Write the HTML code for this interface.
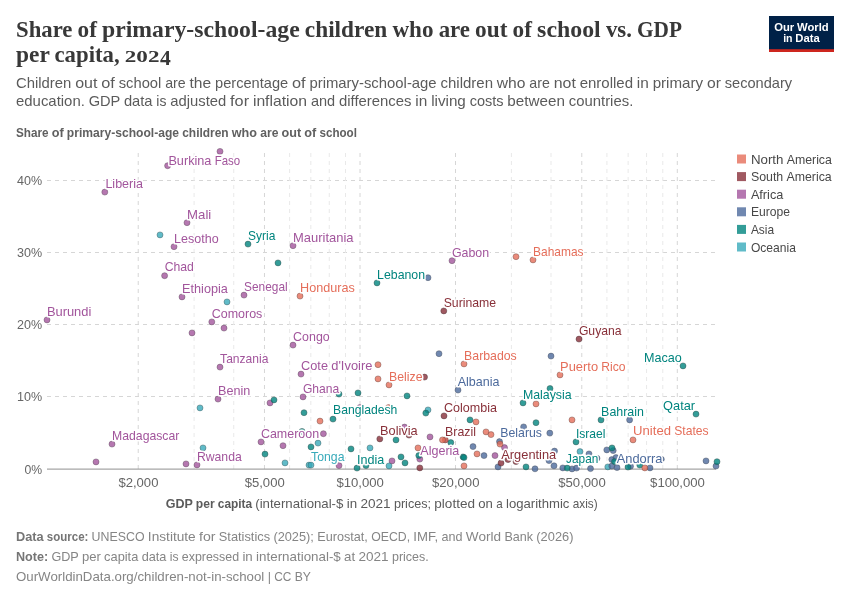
<!DOCTYPE html>
<html lang="en">
<head>
<meta charset="utf-8">
<title>Share of primary-school-age children who are out of school vs. GDP per capita, 2024</title>
<style>
html,body{margin:0;padding:0;background:#fff;}
body{width:850px;height:600px;overflow:hidden;font-family:"Liberation Sans",sans-serif;}
svg{display:block;}
</style>
</head>
<body>
<svg width="850" height="600" viewBox="0 0 850 600">
<rect width="850" height="600" fill="#ffffff"/>
<g id="header">
<text y="36.6" font-family="Liberation Serif, serif" font-size="23.4" font-weight="bold" fill="#383838"><tspan x="16.00" textLength="56.39" lengthAdjust="spacingAndGlyphs">Share</tspan> <tspan x="77.52" textLength="19.41" lengthAdjust="spacingAndGlyphs">of</tspan> <tspan x="102.05" textLength="197.65" lengthAdjust="spacingAndGlyphs">primary-school-age</tspan> <tspan x="304.83" textLength="82.44" lengthAdjust="spacingAndGlyphs">children</tspan> <tspan x="392.40" textLength="41.10" lengthAdjust="spacingAndGlyphs">who</tspan> <tspan x="438.64" textLength="31.32" lengthAdjust="spacingAndGlyphs">are</tspan> <tspan x="475.09" textLength="32.37" lengthAdjust="spacingAndGlyphs">out</tspan> <tspan x="512.60" textLength="19.41" lengthAdjust="spacingAndGlyphs">of</tspan> <tspan x="537.14" textLength="63.61" lengthAdjust="spacingAndGlyphs">school</tspan> <tspan x="605.88" textLength="26.02" lengthAdjust="spacingAndGlyphs">vs.</tspan> <tspan x="637.03" textLength="44.98" lengthAdjust="spacingAndGlyphs">GDP</tspan></text>
<text y="61.6" font-family="Liberation Serif, serif" font-size="23.4" font-weight="bold" fill="#383838"><tspan x="16.00" textLength="33.34" lengthAdjust="spacingAndGlyphs">per</tspan> <tspan x="54.47" textLength="65.18" lengthAdjust="spacingAndGlyphs">capita,</tspan></text>
<text y="61.6" font-family="Liberation Serif, serif" font-size="17.3" font-weight="bold" fill="#383838"><tspan x="124.8" textLength="34.7" lengthAdjust="spacingAndGlyphs">202</tspan><tspan x="160.1" dy="3.1" font-size="21.6" textLength="10.8" lengthAdjust="spacingAndGlyphs">4</tspan></text>
<text y="87.8" font-family="Liberation Sans, sans-serif" font-size="15" fill="#5b5b5b"><tspan x="16.00" textLength="55.37" lengthAdjust="spacingAndGlyphs">Children</tspan> <tspan x="75.21" textLength="22.24" lengthAdjust="spacingAndGlyphs">out</tspan> <tspan x="101.30" textLength="13.60" lengthAdjust="spacingAndGlyphs">of</tspan> <tspan x="118.73" textLength="42.58" lengthAdjust="spacingAndGlyphs">school</tspan> <tspan x="165.15" textLength="20.53" lengthAdjust="spacingAndGlyphs">are</tspan> <tspan x="189.52" textLength="21.67" lengthAdjust="spacingAndGlyphs">the</tspan> <tspan x="215.03" textLength="73.12" lengthAdjust="spacingAndGlyphs">percentage</tspan> <tspan x="291.99" textLength="13.60" lengthAdjust="spacingAndGlyphs">of</tspan> <tspan x="309.43" textLength="127.23" lengthAdjust="spacingAndGlyphs">primary-school-age</tspan> <tspan x="440.50" textLength="52.51" lengthAdjust="spacingAndGlyphs">children</tspan> <tspan x="496.85" textLength="28.66" lengthAdjust="spacingAndGlyphs">who</tspan> <tspan x="529.35" textLength="20.53" lengthAdjust="spacingAndGlyphs">are</tspan> <tspan x="553.72" textLength="22.12" lengthAdjust="spacingAndGlyphs">not</tspan> <tspan x="579.67" textLength="53.35" lengthAdjust="spacingAndGlyphs">enrolled</tspan> <tspan x="636.86" textLength="11.97" lengthAdjust="spacingAndGlyphs">in</tspan> <tspan x="652.67" textLength="50.45" lengthAdjust="spacingAndGlyphs">primary</tspan> <tspan x="706.96" textLength="13.96" lengthAdjust="spacingAndGlyphs">or</tspan> <tspan x="724.77" textLength="67.36" lengthAdjust="spacingAndGlyphs">secondary</tspan></text>
<text y="105.7" font-family="Liberation Sans, sans-serif" font-size="15" fill="#5b5b5b"><tspan x="16.00" textLength="68.86" lengthAdjust="spacingAndGlyphs">education.</tspan> <tspan x="88.70" textLength="31.37" lengthAdjust="spacingAndGlyphs">GDP</tspan> <tspan x="123.91" textLength="28.59" lengthAdjust="spacingAndGlyphs">data</tspan> <tspan x="156.34" textLength="10.09" lengthAdjust="spacingAndGlyphs">is</tspan> <tspan x="170.27" textLength="55.97" lengthAdjust="spacingAndGlyphs">adjusted</tspan> <tspan x="230.09" textLength="18.97" lengthAdjust="spacingAndGlyphs">for</tspan> <tspan x="252.90" textLength="54.16" lengthAdjust="spacingAndGlyphs">inflation</tspan> <tspan x="310.90" textLength="24.22" lengthAdjust="spacingAndGlyphs">and</tspan> <tspan x="338.97" textLength="72.54" lengthAdjust="spacingAndGlyphs">differences</tspan> <tspan x="415.35" textLength="11.97" lengthAdjust="spacingAndGlyphs">in</tspan> <tspan x="431.16" textLength="34.65" lengthAdjust="spacingAndGlyphs">living</tspan> <tspan x="469.65" textLength="33.90" lengthAdjust="spacingAndGlyphs">costs</tspan> <tspan x="507.39" textLength="57.53" lengthAdjust="spacingAndGlyphs">between</tspan> <tspan x="568.76" textLength="64.55" lengthAdjust="spacingAndGlyphs">countries.</tspan></text>
<text y="136.7" font-family="Liberation Sans, sans-serif" font-size="13" font-weight="bold" fill="#606060"><tspan x="16.00" textLength="32.57" lengthAdjust="spacingAndGlyphs">Share</tspan> <tspan x="51.73" textLength="11.97" lengthAdjust="spacingAndGlyphs">of</tspan> <tspan x="66.86" textLength="112.19" lengthAdjust="spacingAndGlyphs">primary-school-age</tspan> <tspan x="182.21" textLength="46.44" lengthAdjust="spacingAndGlyphs">children</tspan> <tspan x="231.81" textLength="25.23" lengthAdjust="spacingAndGlyphs">who</tspan> <tspan x="260.20" textLength="18.20" lengthAdjust="spacingAndGlyphs">are</tspan> <tspan x="281.56" textLength="19.64" lengthAdjust="spacingAndGlyphs">out</tspan> <tspan x="304.35" textLength="11.97" lengthAdjust="spacingAndGlyphs">of</tspan> <tspan x="319.48" textLength="37.48" lengthAdjust="spacingAndGlyphs">school</tspan></text>
</g>
<g id="logo">
<rect x="769" y="16" width="65" height="36" fill="#002147"/>
<rect x="769" y="49.2" width="65" height="2.8" fill="#ce261e"/>
<text y="30.6" font-family="Liberation Sans, sans-serif" font-size="11.5" font-weight="bold" fill="#ffffff"><tspan x="774.27" textLength="19.99" lengthAdjust="spacingAndGlyphs">Our</tspan> <tspan x="797.06" textLength="31.66" lengthAdjust="spacingAndGlyphs">World</tspan></text>
<text y="42.4" font-family="Liberation Sans, sans-serif" font-size="11.5" font-weight="bold" fill="#ffffff"><tspan x="783.16" textLength="9.41" lengthAdjust="spacingAndGlyphs">in</tspan> <tspan x="795.36" textLength="24.47" lengthAdjust="spacingAndGlyphs">Data</tspan></text>
</g>
<g id="grid" stroke-width="1">
<line x1="47" x2="715.5" y1="180.5" y2="180.5" stroke="#d6d6d6" stroke-dasharray="4,4"/>
<line x1="47" x2="715.5" y1="252.5" y2="252.5" stroke="#d6d6d6" stroke-dasharray="4,4"/>
<line x1="47" x2="715.5" y1="324.5" y2="324.5" stroke="#d6d6d6" stroke-dasharray="4,4"/>
<line x1="47" x2="715.5" y1="396.5" y2="396.5" stroke="#d6d6d6" stroke-dasharray="4,4"/>
<line x1="138.22" x2="138.22" y1="469" y2="153" stroke="#d6d6d6" stroke-dasharray="4,4"/>
<line x1="264.48" x2="264.48" y1="469" y2="153" stroke="#d6d6d6" stroke-dasharray="4,4"/>
<line x1="360.00" x2="360.00" y1="469" y2="153" stroke="#d6d6d6" stroke-dasharray="4,4"/>
<line x1="455.52" x2="455.52" y1="469" y2="153" stroke="#d6d6d6" stroke-dasharray="4,4"/>
<line x1="581.78" x2="581.78" y1="469" y2="153" stroke="#d6d6d6" stroke-dasharray="4,4"/>
<line x1="677.30" x2="677.30" y1="469" y2="153" stroke="#d6d6d6" stroke-dasharray="4,4"/>
<line x1="194.09" x2="194.09" y1="469" y2="153" stroke="#e9e9e9" stroke-dasharray="4,4"/>
<line x1="233.73" x2="233.73" y1="469" y2="153" stroke="#e9e9e9" stroke-dasharray="4,4"/>
<line x1="289.61" x2="289.61" y1="469" y2="153" stroke="#e9e9e9" stroke-dasharray="4,4"/>
<line x1="310.85" x2="310.85" y1="469" y2="153" stroke="#e9e9e9" stroke-dasharray="4,4"/>
<line x1="329.25" x2="329.25" y1="469" y2="153" stroke="#e9e9e9" stroke-dasharray="4,4"/>
<line x1="345.48" x2="345.48" y1="469" y2="153" stroke="#e9e9e9" stroke-dasharray="4,4"/>
<line x1="511.39" x2="511.39" y1="469" y2="153" stroke="#e9e9e9" stroke-dasharray="4,4"/>
<line x1="551.03" x2="551.03" y1="469" y2="153" stroke="#e9e9e9" stroke-dasharray="4,4"/>
<line x1="606.91" x2="606.91" y1="469" y2="153" stroke="#e9e9e9" stroke-dasharray="4,4"/>
<line x1="628.15" x2="628.15" y1="469" y2="153" stroke="#e9e9e9" stroke-dasharray="4,4"/>
<line x1="646.55" x2="646.55" y1="469" y2="153" stroke="#e9e9e9" stroke-dasharray="4,4"/>
<line x1="662.78" x2="662.78" y1="469" y2="153" stroke="#e9e9e9" stroke-dasharray="4,4"/>
<line x1="47" x2="716" y1="469.1" y2="469.1" stroke="#8f8f8f"/>
</g>
<g id="ticks">
<text y="184.7" font-family="Liberation Sans, sans-serif" font-size="13.4" fill="#666666"><tspan x="17.10" textLength="25.10" lengthAdjust="spacingAndGlyphs">40%</tspan></text>
<text y="256.7" font-family="Liberation Sans, sans-serif" font-size="13.4" fill="#666666"><tspan x="17.10" textLength="25.10" lengthAdjust="spacingAndGlyphs">30%</tspan></text>
<text y="328.7" font-family="Liberation Sans, sans-serif" font-size="13.4" fill="#666666"><tspan x="17.10" textLength="25.10" lengthAdjust="spacingAndGlyphs">20%</tspan></text>
<text y="400.7" font-family="Liberation Sans, sans-serif" font-size="13.4" fill="#666666"><tspan x="17.10" textLength="25.10" lengthAdjust="spacingAndGlyphs">10%</tspan></text>
<text y="473.6" font-family="Liberation Sans, sans-serif" font-size="13.4" fill="#666666"><tspan x="24.52" textLength="17.68" lengthAdjust="spacingAndGlyphs">0%</tspan></text>
<text y="487.0" font-family="Liberation Sans, sans-serif" font-size="13.4" fill="#666666"><tspan x="118.41" textLength="40.02" lengthAdjust="spacingAndGlyphs">$2,000</tspan></text>
<text y="487.0" font-family="Liberation Sans, sans-serif" font-size="13.4" fill="#666666"><tspan x="244.68" textLength="40.02" lengthAdjust="spacingAndGlyphs">$5,000</tspan></text>
<text y="487.0" font-family="Liberation Sans, sans-serif" font-size="13.4" fill="#666666"><tspan x="336.48" textLength="47.44" lengthAdjust="spacingAndGlyphs">$10,000</tspan></text>
<text y="487.0" font-family="Liberation Sans, sans-serif" font-size="13.4" fill="#666666"><tspan x="432.00" textLength="47.44" lengthAdjust="spacingAndGlyphs">$20,000</tspan></text>
<text y="487.0" font-family="Liberation Sans, sans-serif" font-size="13.4" fill="#666666"><tspan x="558.26" textLength="47.44" lengthAdjust="spacingAndGlyphs">$50,000</tspan></text>
<text y="487.0" font-family="Liberation Sans, sans-serif" font-size="13.4" fill="#666666"><tspan x="650.07" textLength="54.86" lengthAdjust="spacingAndGlyphs">$100,000</tspan></text>
<text y="508.4" font-family="Liberation Sans, sans-serif" font-size="13"><tspan font-weight="bold" fill="#5b5b5b"><tspan x="165.87" textLength="26.88" lengthAdjust="spacingAndGlyphs">GDP</tspan> <tspan x="195.85" textLength="18.83" lengthAdjust="spacingAndGlyphs">per</tspan> <tspan x="217.78" textLength="34.35" lengthAdjust="spacingAndGlyphs">capita</tspan></tspan> <tspan fill="#5b5b5b"><tspan x="255.24" textLength="88.14" lengthAdjust="spacingAndGlyphs">(international-$</tspan> <tspan x="346.71" textLength="10.37" lengthAdjust="spacingAndGlyphs">in</tspan> <tspan x="360.41" textLength="30.16" lengthAdjust="spacingAndGlyphs">2021</tspan> <tspan x="393.90" textLength="37.12" lengthAdjust="spacingAndGlyphs">prices;</tspan> <tspan x="434.35" textLength="40.60" lengthAdjust="spacingAndGlyphs">plotted</tspan> <tspan x="478.27" textLength="14.63" lengthAdjust="spacingAndGlyphs">on</tspan> <tspan x="496.23" textLength="6.46" lengthAdjust="spacingAndGlyphs">a</tspan> <tspan x="506.01" textLength="63.41" lengthAdjust="spacingAndGlyphs">logarithmic</tspan> <tspan x="572.76" textLength="24.87" lengthAdjust="spacingAndGlyphs">axis)</tspan></tspan></text>
</g>
<g id="legend">
<rect x="737" y="154.5" width="9" height="9" fill="#e56e5a" fill-opacity="0.8"/>
<rect x="737" y="172.1" width="9" height="9" fill="#883039" fill-opacity="0.8"/>
<rect x="737" y="189.7" width="9" height="9" fill="#a2559c" fill-opacity="0.8"/>
<rect x="737" y="207.3" width="9" height="9" fill="#4c6a9c" fill-opacity="0.8"/>
<rect x="737" y="224.9" width="9" height="9" fill="#00847e" fill-opacity="0.8"/>
<rect x="737" y="242.5" width="9" height="9" fill="#38aaba" fill-opacity="0.8"/>
<text y="163.5" font-family="Liberation Sans, sans-serif" font-size="12.55" fill="#484848"><tspan x="750.90" textLength="32.57" lengthAdjust="spacingAndGlyphs">North</tspan> <tspan x="786.68" textLength="45.22" lengthAdjust="spacingAndGlyphs">America</tspan></text>
<text y="181.1" font-family="Liberation Sans, sans-serif" font-size="12.55" fill="#484848"><tspan x="750.90" textLength="32.38" lengthAdjust="spacingAndGlyphs">South</tspan> <tspan x="786.49" textLength="45.22" lengthAdjust="spacingAndGlyphs">America</tspan></text>
<text y="198.7" font-family="Liberation Sans, sans-serif" font-size="12.55" fill="#484848"><tspan x="750.90" textLength="32.42" lengthAdjust="spacingAndGlyphs">Africa</tspan></text>
<text y="216.3" font-family="Liberation Sans, sans-serif" font-size="12.55" fill="#484848"><tspan x="750.90" textLength="39.05" lengthAdjust="spacingAndGlyphs">Europe</tspan></text>
<text y="233.9" font-family="Liberation Sans, sans-serif" font-size="12.55" fill="#484848"><tspan x="750.90" textLength="23.17" lengthAdjust="spacingAndGlyphs">Asia</tspan></text>
<text y="251.5" font-family="Liberation Sans, sans-serif" font-size="12.55" fill="#484848"><tspan x="750.90" textLength="44.95" lengthAdjust="spacingAndGlyphs">Oceania</tspan></text>
</g>
<g id="points">
<g fill="#a2559c" fill-opacity="0.8" stroke="#5e4a5c" stroke-width="0.6" stroke-opacity="0.75"><circle cx="220" cy="151.40" r="3"/> <circle cx="167.6" cy="165.70" r="3"/> <circle cx="104.8" cy="192.10" r="3"/> <circle cx="187" cy="222.70" r="3"/> <circle cx="174" cy="246.70" r="3"/> <circle cx="293" cy="245.70" r="3"/> <circle cx="452" cy="260.70" r="3"/> <circle cx="164.6" cy="275.70" r="3"/> <circle cx="182" cy="296.90" r="3"/> <circle cx="244" cy="295.10" r="3"/> <circle cx="211.8" cy="321.90" r="3"/> <circle cx="224" cy="328.10" r="3"/> <circle cx="192" cy="332.90" r="3"/> <circle cx="47" cy="319.90" r="3"/> <circle cx="293" cy="345.10" r="3"/> <circle cx="220" cy="367.10" r="3"/> <circle cx="301" cy="374.10" r="3"/> <circle cx="218" cy="399.10" r="3"/> <circle cx="270" cy="402.90" r="3"/> <circle cx="303" cy="396.90" r="3"/> <circle cx="112" cy="444.10" r="3"/> <circle cx="96" cy="461.90" r="3"/> <circle cx="261" cy="441.90" r="3"/> <circle cx="323.4" cy="433.70" r="3"/> <circle cx="283" cy="445.70" r="3"/> <circle cx="186" cy="463.90" r="3"/> <circle cx="197" cy="464.90" r="3"/> <circle cx="339" cy="465.60" r="3"/> <circle cx="359.8" cy="407.60" r="3"/> <circle cx="404.5" cy="427.10" r="3"/> <circle cx="430" cy="436.90" r="3"/> <circle cx="392" cy="460.90" r="3"/> <circle cx="419.8" cy="459.10" r="3"/> <circle cx="495" cy="455.60" r="3"/> <circle cx="504.5" cy="447.60" r="3"/></g>
<g fill="#38aaba" fill-opacity="0.8" stroke="#3f5a5f" stroke-width="0.6" stroke-opacity="0.75"><circle cx="160" cy="234.90" r="3"/> <circle cx="227" cy="301.90" r="3"/> <circle cx="200" cy="407.90" r="3"/> <circle cx="203" cy="447.90" r="3"/> <circle cx="318" cy="443.10" r="3"/> <circle cx="285" cy="462.90" r="3"/> <circle cx="309" cy="465.10" r="3"/> <circle cx="311" cy="465.10" r="3"/> <circle cx="428" cy="409.90" r="3"/> <circle cx="370" cy="447.90" r="3"/> <circle cx="389" cy="465.90" r="3"/> <circle cx="580" cy="451.60" r="3"/> <circle cx="607.8" cy="466.90" r="3"/></g>
<g fill="#4c6a9c" fill-opacity="0.8" stroke="#454e5e" stroke-width="0.6" stroke-opacity="0.75"><circle cx="428" cy="277.70" r="3"/> <circle cx="439" cy="353.70" r="3"/> <circle cx="551" cy="356.10" r="3"/> <circle cx="458" cy="390.10" r="3"/> <circle cx="629.6" cy="419.90" r="3"/> <circle cx="523.6" cy="426.90" r="3"/> <circle cx="549.8" cy="433.10" r="3"/> <circle cx="473" cy="446.60" r="3"/> <circle cx="484" cy="455.60" r="3"/> <circle cx="499.5" cy="441.60" r="3"/> <circle cx="498" cy="466.90" r="3"/> <circle cx="554.5" cy="451.10" r="3"/> <circle cx="549" cy="460.60" r="3"/> <circle cx="554" cy="465.80" r="3"/> <circle cx="535" cy="468.80" r="3"/> <circle cx="562.8" cy="467.90" r="3"/> <circle cx="572" cy="468.90" r="3"/> <circle cx="576.5" cy="468.10" r="3"/> <circle cx="589" cy="453.90" r="3"/> <circle cx="590.5" cy="468.60" r="3"/> <circle cx="606.8" cy="449.90" r="3"/> <circle cx="613.2" cy="450.60" r="3"/> <circle cx="611.8" cy="459.60" r="3"/> <circle cx="616" cy="457.60" r="3"/> <circle cx="611.8" cy="466.10" r="3"/> <circle cx="617" cy="467.60" r="3"/> <circle cx="630.5" cy="466.30" r="3"/> <circle cx="650" cy="467.90" r="3"/> <circle cx="706" cy="460.90" r="3"/> <circle cx="716" cy="466.10" r="3"/> <circle cx="597.0" cy="458.30" r="3"/> <circle cx="661.3" cy="459.30" r="3"/></g>
<g fill="#00847e" fill-opacity="0.8" stroke="#2f4f4d" stroke-width="0.6" stroke-opacity="0.75"><circle cx="248" cy="244.10" r="3"/> <circle cx="278" cy="262.90" r="3"/> <circle cx="377" cy="282.90" r="3"/> <circle cx="683" cy="365.90" r="3"/> <circle cx="274" cy="399.90" r="3"/> <circle cx="304" cy="412.70" r="3"/> <circle cx="333" cy="419.10" r="3"/> <circle cx="339" cy="394.10" r="3"/> <circle cx="358" cy="392.90" r="3"/> <circle cx="407" cy="395.90" r="3"/> <circle cx="425.8" cy="413.10" r="3"/> <circle cx="470" cy="419.90" r="3"/> <circle cx="550" cy="388.50" r="3"/> <circle cx="523" cy="402.90" r="3"/> <circle cx="536" cy="422.70" r="3"/> <circle cx="601" cy="419.90" r="3"/> <circle cx="696" cy="414.10" r="3"/> <circle cx="576" cy="441.90" r="3"/> <circle cx="311" cy="446.90" r="3"/> <circle cx="265" cy="454.10" r="3"/> <circle cx="351" cy="448.90" r="3"/> <circle cx="396" cy="439.90" r="3"/> <circle cx="450.8" cy="442.60" r="3"/> <circle cx="418.8" cy="455.60" r="3"/> <circle cx="401" cy="456.90" r="3"/> <circle cx="405" cy="462.90" r="3"/> <circle cx="357" cy="468.10" r="3"/> <circle cx="366" cy="465.60" r="3"/> <circle cx="463" cy="456.90" r="3"/> <circle cx="464" cy="457.50" r="3"/> <circle cx="526" cy="466.90" r="3"/> <circle cx="567.2" cy="468.10" r="3"/> <circle cx="612" cy="447.90" r="3"/> <circle cx="614.5" cy="461.60" r="3"/> <circle cx="628" cy="467.10" r="3"/> <circle cx="639.8" cy="465.10" r="3"/> <circle cx="717" cy="461.70" r="3"/> <circle cx="302" cy="431.40" r="3"/></g>
<g fill="#e56e5a" fill-opacity="0.8" stroke="#6e4a44" stroke-width="0.6" stroke-opacity="0.75"><circle cx="516" cy="256.70" r="3"/> <circle cx="533" cy="259.90" r="3"/> <circle cx="300" cy="296.10" r="3"/> <circle cx="378" cy="364.70" r="3"/> <circle cx="464" cy="363.90" r="3"/> <circle cx="560" cy="374.90" r="3"/> <circle cx="378" cy="378.90" r="3"/> <circle cx="389" cy="384.90" r="3"/> <circle cx="320" cy="421.10" r="3"/> <circle cx="388.5" cy="407.60" r="3"/> <circle cx="476" cy="421.90" r="3"/> <circle cx="536" cy="403.90" r="3"/> <circle cx="572" cy="419.90" r="3"/> <circle cx="486" cy="431.90" r="3"/> <circle cx="491" cy="434.60" r="3"/> <circle cx="418" cy="447.90" r="3"/> <circle cx="477" cy="453.90" r="3"/> <circle cx="500" cy="444.10" r="3"/> <circle cx="464" cy="465.90" r="3"/> <circle cx="633" cy="439.90" r="3"/> <circle cx="644.8" cy="467.90" r="3"/></g>
<g fill="#883039" fill-opacity="0.8" stroke="#4a3236" stroke-width="0.6" stroke-opacity="0.75"><circle cx="443.8" cy="310.90" r="3"/> <circle cx="579" cy="339.10" r="3"/> <circle cx="424.5" cy="377.10" r="3"/> <circle cx="444" cy="415.90" r="3"/> <circle cx="379.8" cy="438.90" r="3"/> <circle cx="409" cy="435.10" r="3"/> <circle cx="419.8" cy="467.90" r="3"/> <circle cx="501" cy="463.10" r="3"/> <circle cx="508" cy="459.60" r="3"/> <circle cx="516" cy="461.60" r="3"/></g>
<g stroke-width="0.6" stroke-opacity="0.75"><circle cx="445.3" cy="439.9" r="3" fill="#c4524c" fill-opacity="0.85" stroke="#5a3a3a"/><circle cx="442.5" cy="439.9" r="3" fill="#e56e5a" fill-opacity="0.8" stroke="#6e4a44"/></g>
</g>
<g id="labels">
<text y="165.2" font-family="Liberation Sans, sans-serif" font-size="12.8" fill="#a2559c" stroke="#fff" stroke-width="3" stroke-linejoin="round" paint-order="stroke"><tspan x="168.40" textLength="43.00" lengthAdjust="spacingAndGlyphs">Burkina</tspan> <tspan x="214.68" textLength="25.48" lengthAdjust="spacingAndGlyphs">Faso</tspan></text>
<text y="187.9" font-family="Liberation Sans, sans-serif" font-size="12.8" fill="#a2559c" stroke="#fff" stroke-width="3" stroke-linejoin="round" paint-order="stroke"><tspan x="105.40" textLength="37.65" lengthAdjust="spacingAndGlyphs">Liberia</tspan></text>
<text y="218.7" font-family="Liberation Sans, sans-serif" font-size="12.8" fill="#a2559c" stroke="#fff" stroke-width="3" stroke-linejoin="round" paint-order="stroke"><tspan x="187.10" textLength="24.14" lengthAdjust="spacingAndGlyphs">Mali</tspan></text>
<text y="242.7" font-family="Liberation Sans, sans-serif" font-size="12.8" fill="#a2559c" stroke="#fff" stroke-width="3" stroke-linejoin="round" paint-order="stroke"><tspan x="174.10" textLength="44.53" lengthAdjust="spacingAndGlyphs">Lesotho</tspan></text>
<text y="241.7" font-family="Liberation Sans, sans-serif" font-size="12.8" fill="#a2559c" stroke="#fff" stroke-width="3" stroke-linejoin="round" paint-order="stroke"><tspan x="293.10" textLength="60.43" lengthAdjust="spacingAndGlyphs">Mauritania</tspan></text>
<text y="256.6" font-family="Liberation Sans, sans-serif" font-size="12.8" fill="#a2559c" stroke="#fff" stroke-width="3" stroke-linejoin="round" paint-order="stroke"><tspan x="451.90" textLength="37.23" lengthAdjust="spacingAndGlyphs">Gabon</tspan></text>
<text y="271.4" font-family="Liberation Sans, sans-serif" font-size="12.8" fill="#a2559c" stroke="#fff" stroke-width="3" stroke-linejoin="round" paint-order="stroke"><tspan x="164.70" textLength="29.22" lengthAdjust="spacingAndGlyphs">Chad</tspan></text>
<text y="292.6" font-family="Liberation Sans, sans-serif" font-size="12.8" fill="#a2559c" stroke="#fff" stroke-width="3" stroke-linejoin="round" paint-order="stroke"><tspan x="182.10" textLength="45.77" lengthAdjust="spacingAndGlyphs">Ethiopia</tspan></text>
<text y="290.9" font-family="Liberation Sans, sans-serif" font-size="12.8" fill="#a2559c" stroke="#fff" stroke-width="3" stroke-linejoin="round" paint-order="stroke"><tspan x="244.10" textLength="43.59" lengthAdjust="spacingAndGlyphs">Senegal</tspan></text>
<text y="317.6" font-family="Liberation Sans, sans-serif" font-size="12.8" fill="#a2559c" stroke="#fff" stroke-width="3" stroke-linejoin="round" paint-order="stroke"><tspan x="211.70" textLength="50.65" lengthAdjust="spacingAndGlyphs">Comoros</tspan></text>
<text y="315.6" font-family="Liberation Sans, sans-serif" font-size="12.8" fill="#a2559c" stroke="#fff" stroke-width="3" stroke-linejoin="round" paint-order="stroke"><tspan x="46.90" textLength="44.44" lengthAdjust="spacingAndGlyphs">Burundi</tspan></text>
<text y="340.9" font-family="Liberation Sans, sans-serif" font-size="12.8" fill="#a2559c" stroke="#fff" stroke-width="3" stroke-linejoin="round" paint-order="stroke"><tspan x="293.10" textLength="36.62" lengthAdjust="spacingAndGlyphs">Congo</tspan></text>
<text y="362.9" font-family="Liberation Sans, sans-serif" font-size="12.8" fill="#a2559c" stroke="#fff" stroke-width="3" stroke-linejoin="round" paint-order="stroke"><tspan x="220.10" textLength="48.31" lengthAdjust="spacingAndGlyphs">Tanzania</tspan></text>
<text y="369.9" font-family="Liberation Sans, sans-serif" font-size="12.8" fill="#a2559c" stroke="#fff" stroke-width="3" stroke-linejoin="round" paint-order="stroke"><tspan x="301.10" textLength="26.87" lengthAdjust="spacingAndGlyphs">Cote</tspan> <tspan x="331.25" textLength="41.11" lengthAdjust="spacingAndGlyphs">d'Ivoire</tspan></text>
<text y="394.9" font-family="Liberation Sans, sans-serif" font-size="12.8" fill="#a2559c" stroke="#fff" stroke-width="3" stroke-linejoin="round" paint-order="stroke"><tspan x="218.10" textLength="32.29" lengthAdjust="spacingAndGlyphs">Benin</tspan></text>
<text y="392.9" font-family="Liberation Sans, sans-serif" font-size="12.8" fill="#a2559c" stroke="#fff" stroke-width="3" stroke-linejoin="round" paint-order="stroke"><tspan x="302.90" textLength="36.29" lengthAdjust="spacingAndGlyphs">Ghana</tspan></text>
<text y="439.9" font-family="Liberation Sans, sans-serif" font-size="12.8" fill="#a2559c" stroke="#fff" stroke-width="3" stroke-linejoin="round" paint-order="stroke"><tspan x="112.10" textLength="67.26" lengthAdjust="spacingAndGlyphs">Madagascar</tspan></text>
<text y="438.1" font-family="Liberation Sans, sans-serif" font-size="12.8" fill="#a2559c" stroke="#fff" stroke-width="3" stroke-linejoin="round" paint-order="stroke"><tspan x="260.90" textLength="58.24" lengthAdjust="spacingAndGlyphs">Cameroon</tspan></text>
<text y="460.6" font-family="Liberation Sans, sans-serif" font-size="12.8" fill="#a2559c" stroke="#fff" stroke-width="3" stroke-linejoin="round" paint-order="stroke"><tspan x="196.90" textLength="44.86" lengthAdjust="spacingAndGlyphs">Rwanda</tspan></text>
<text y="454.9" font-family="Liberation Sans, sans-serif" font-size="12.8" fill="#a2559c" stroke="#fff" stroke-width="3" stroke-linejoin="round" paint-order="stroke"><tspan x="420.30" textLength="39.06" lengthAdjust="spacingAndGlyphs">Algeria</tspan></text>
<text y="239.8" font-family="Liberation Sans, sans-serif" font-size="12.8" fill="#00847e" stroke="#fff" stroke-width="3" stroke-linejoin="round" paint-order="stroke"><tspan x="248.10" textLength="27.30" lengthAdjust="spacingAndGlyphs">Syria</tspan></text>
<text y="279.2" font-family="Liberation Sans, sans-serif" font-size="12.8" fill="#00847e" stroke="#fff" stroke-width="3" stroke-linejoin="round" paint-order="stroke"><tspan x="377.10" textLength="47.92" lengthAdjust="spacingAndGlyphs">Lebanon</tspan></text>
<text y="361.6" font-family="Liberation Sans, sans-serif" font-size="12.8" fill="#00847e" stroke="#fff" stroke-width="3" stroke-linejoin="round" paint-order="stroke"><tspan x="644.10" textLength="37.78" lengthAdjust="spacingAndGlyphs">Macao</tspan></text>
<text y="414.4" font-family="Liberation Sans, sans-serif" font-size="12.8" fill="#00847e" stroke="#fff" stroke-width="3" stroke-linejoin="round" paint-order="stroke"><tspan x="333.10" textLength="64.31" lengthAdjust="spacingAndGlyphs">Bangladesh</tspan></text>
<text y="398.6" font-family="Liberation Sans, sans-serif" font-size="12.8" fill="#00847e" stroke="#fff" stroke-width="3" stroke-linejoin="round" paint-order="stroke"><tspan x="522.90" textLength="48.73" lengthAdjust="spacingAndGlyphs">Malaysia</tspan></text>
<text y="415.6" font-family="Liberation Sans, sans-serif" font-size="12.8" fill="#00847e" stroke="#fff" stroke-width="3" stroke-linejoin="round" paint-order="stroke"><tspan x="601.10" textLength="42.80" lengthAdjust="spacingAndGlyphs">Bahrain</tspan></text>
<text y="409.6" font-family="Liberation Sans, sans-serif" font-size="12.8" fill="#00847e" stroke="#fff" stroke-width="3" stroke-linejoin="round" paint-order="stroke"><tspan x="663.10" textLength="31.96" lengthAdjust="spacingAndGlyphs">Qatar</tspan></text>
<text y="437.9" font-family="Liberation Sans, sans-serif" font-size="12.8" fill="#00847e" stroke="#fff" stroke-width="3" stroke-linejoin="round" paint-order="stroke"><tspan x="575.90" textLength="29.62" lengthAdjust="spacingAndGlyphs">Israel</tspan></text>
<text y="463.6" font-family="Liberation Sans, sans-serif" font-size="12.8" fill="#00847e" stroke="#fff" stroke-width="3" stroke-linejoin="round" paint-order="stroke"><tspan x="357.10" textLength="27.23" lengthAdjust="spacingAndGlyphs">India</tspan></text>
<text y="463.2" font-family="Liberation Sans, sans-serif" font-size="12.8" fill="#00847e" stroke="#fff" stroke-width="3" stroke-linejoin="round" paint-order="stroke"><tspan x="566.10" textLength="32.18" lengthAdjust="spacingAndGlyphs">Japan</tspan></text>
<text y="385.8" font-family="Liberation Sans, sans-serif" font-size="12.8" fill="#4c6a9c" stroke="#fff" stroke-width="3" stroke-linejoin="round" paint-order="stroke"><tspan x="457.70" textLength="41.76" lengthAdjust="spacingAndGlyphs">Albania</tspan></text>
<text y="437.4" font-family="Liberation Sans, sans-serif" font-size="12.8" fill="#4c6a9c" stroke="#fff" stroke-width="3" stroke-linejoin="round" paint-order="stroke"><tspan x="500.30" textLength="41.65" lengthAdjust="spacingAndGlyphs">Belarus</tspan></text>
<text y="463.1" font-family="Liberation Sans, sans-serif" font-size="12.8" fill="#4c6a9c" stroke="#fff" stroke-width="3" stroke-linejoin="round" paint-order="stroke"><tspan x="616.70" textLength="45.77" lengthAdjust="spacingAndGlyphs">Andorra</tspan></text>
<text y="255.8" font-family="Liberation Sans, sans-serif" font-size="12.8" fill="#e56e5a" stroke="#fff" stroke-width="3" stroke-linejoin="round" paint-order="stroke"><tspan x="533.10" textLength="50.46" lengthAdjust="spacingAndGlyphs">Bahamas</tspan></text>
<text y="291.9" font-family="Liberation Sans, sans-serif" font-size="12.8" fill="#e56e5a" stroke="#fff" stroke-width="3" stroke-linejoin="round" paint-order="stroke"><tspan x="300.10" textLength="54.73" lengthAdjust="spacingAndGlyphs">Honduras</tspan></text>
<text y="359.6" font-family="Liberation Sans, sans-serif" font-size="12.8" fill="#e56e5a" stroke="#fff" stroke-width="3" stroke-linejoin="round" paint-order="stroke"><tspan x="464.10" textLength="52.68" lengthAdjust="spacingAndGlyphs">Barbados</tspan></text>
<text y="370.6" font-family="Liberation Sans, sans-serif" font-size="12.8" fill="#e56e5a" stroke="#fff" stroke-width="3" stroke-linejoin="round" paint-order="stroke"><tspan x="560.10" textLength="37.99" lengthAdjust="spacingAndGlyphs">Puerto</tspan> <tspan x="601.36" textLength="24.25" lengthAdjust="spacingAndGlyphs">Rico</tspan></text>
<text y="380.6" font-family="Liberation Sans, sans-serif" font-size="12.8" fill="#e56e5a" stroke="#fff" stroke-width="3" stroke-linejoin="round" paint-order="stroke"><tspan x="389.10" textLength="33.44" lengthAdjust="spacingAndGlyphs">Belize</tspan></text>
<text y="435.4" font-family="Liberation Sans, sans-serif" font-size="12.8" fill="#e56e5a" stroke="#fff" stroke-width="3" stroke-linejoin="round" paint-order="stroke"><tspan x="633.10" textLength="37.91" lengthAdjust="spacingAndGlyphs">United</tspan> <tspan x="674.29" textLength="34.37" lengthAdjust="spacingAndGlyphs">States</tspan></text>
<text y="306.9" font-family="Liberation Sans, sans-serif" font-size="12.8" fill="#883039" stroke="#fff" stroke-width="3" stroke-linejoin="round" paint-order="stroke"><tspan x="443.70" textLength="52.46" lengthAdjust="spacingAndGlyphs">Suriname</tspan></text>
<text y="334.9" font-family="Liberation Sans, sans-serif" font-size="12.8" fill="#883039" stroke="#fff" stroke-width="3" stroke-linejoin="round" paint-order="stroke"><tspan x="578.90" textLength="42.70" lengthAdjust="spacingAndGlyphs">Guyana</tspan></text>
<text y="411.8" font-family="Liberation Sans, sans-serif" font-size="12.8" fill="#883039" stroke="#fff" stroke-width="3" stroke-linejoin="round" paint-order="stroke"><tspan x="443.90" textLength="53.08" lengthAdjust="spacingAndGlyphs">Colombia</tspan></text>
<text y="434.9" font-family="Liberation Sans, sans-serif" font-size="12.8" fill="#883039" stroke="#fff" stroke-width="3" stroke-linejoin="round" paint-order="stroke"><tspan x="380.10" textLength="37.56" lengthAdjust="spacingAndGlyphs">Bolivia</tspan></text>
<text y="435.6" font-family="Liberation Sans, sans-serif" font-size="12.8" fill="#883039" stroke="#fff" stroke-width="3" stroke-linejoin="round" paint-order="stroke"><tspan x="445.10" textLength="30.92" lengthAdjust="spacingAndGlyphs">Brazil</tspan></text>
<text y="458.8" font-family="Liberation Sans, sans-serif" font-size="12.8" fill="#883039" stroke="#fff" stroke-width="3" stroke-linejoin="round" paint-order="stroke"><tspan x="501.30" textLength="54.89" lengthAdjust="spacingAndGlyphs">Argentina</tspan></text>
<text y="460.6" font-family="Liberation Sans, sans-serif" font-size="12.8" fill="#38aaba" stroke="#fff" stroke-width="3" stroke-linejoin="round" paint-order="stroke"><tspan x="311.10" textLength="33.41" lengthAdjust="spacingAndGlyphs">Tonga</tspan></text>
</g>
<g id="footer">
<text y="540.7" font-family="Liberation Sans, sans-serif" font-size="13"><tspan font-weight="bold" fill="#757575"><tspan x="16.00" textLength="27.66" lengthAdjust="spacingAndGlyphs">Data</tspan> <tspan x="46.82" textLength="41.61" lengthAdjust="spacingAndGlyphs">source:</tspan></tspan> <tspan fill="#858585"><tspan x="91.60" textLength="52.96" lengthAdjust="spacingAndGlyphs">UNESCO</tspan> <tspan x="147.88" textLength="47.83" lengthAdjust="spacingAndGlyphs">Institute</tspan> <tspan x="199.04" textLength="16.45" lengthAdjust="spacingAndGlyphs">for</tspan> <tspan x="218.81" textLength="51.28" lengthAdjust="spacingAndGlyphs">Statistics</tspan> <tspan x="273.42" textLength="40.50" lengthAdjust="spacingAndGlyphs">(2025);</tspan> <tspan x="317.25" textLength="50.59" lengthAdjust="spacingAndGlyphs">Eurostat,</tspan> <tspan x="371.17" textLength="38.89" lengthAdjust="spacingAndGlyphs">OECD,</tspan> <tspan x="413.38" textLength="24.84" lengthAdjust="spacingAndGlyphs">IMF,</tspan> <tspan x="441.55" textLength="21.00" lengthAdjust="spacingAndGlyphs">and</tspan> <tspan x="465.87" textLength="35.18" lengthAdjust="spacingAndGlyphs">World</tspan> <tspan x="504.38" textLength="28.62" lengthAdjust="spacingAndGlyphs">Bank</tspan> <tspan x="536.33" textLength="37.10" lengthAdjust="spacingAndGlyphs">(2026)</tspan></tspan></text>
<text y="560.7" font-family="Liberation Sans, sans-serif" font-size="13"><tspan font-weight="bold" fill="#757575"><tspan x="16.00" textLength="32.23" lengthAdjust="spacingAndGlyphs">Note:</tspan></tspan> <tspan fill="#858585"><tspan x="51.39" textLength="27.19" lengthAdjust="spacingAndGlyphs">GDP</tspan> <tspan x="81.90" textLength="18.88" lengthAdjust="spacingAndGlyphs">per</tspan> <tspan x="104.11" textLength="34.20" lengthAdjust="spacingAndGlyphs">capita</tspan> <tspan x="141.64" textLength="24.78" lengthAdjust="spacingAndGlyphs">data</tspan> <tspan x="169.74" textLength="8.75" lengthAdjust="spacingAndGlyphs">is</tspan> <tspan x="181.82" textLength="57.27" lengthAdjust="spacingAndGlyphs">expressed</tspan> <tspan x="242.42" textLength="10.37" lengthAdjust="spacingAndGlyphs">in</tspan> <tspan x="256.12" textLength="84.67" lengthAdjust="spacingAndGlyphs">international-$</tspan> <tspan x="344.12" textLength="11.04" lengthAdjust="spacingAndGlyphs">at</tspan> <tspan x="358.49" textLength="30.16" lengthAdjust="spacingAndGlyphs">2021</tspan> <tspan x="391.97" textLength="36.79" lengthAdjust="spacingAndGlyphs">prices.</tspan></tspan></text>
<text y="580.8" font-family="Liberation Sans, sans-serif" font-size="13"><tspan fill="#858585"><tspan x="16.00" textLength="248.30" lengthAdjust="spacingAndGlyphs">OurWorldinData.org/children-not-in-school</tspan> <tspan x="267.63" textLength="3.26" lengthAdjust="spacingAndGlyphs">|</tspan> <tspan x="274.21" textLength="17.19" lengthAdjust="spacingAndGlyphs">CC</tspan> <tspan x="294.73" textLength="16.22" lengthAdjust="spacingAndGlyphs">BY</tspan></tspan></text>
</g>
</svg>
</body>
</html>
